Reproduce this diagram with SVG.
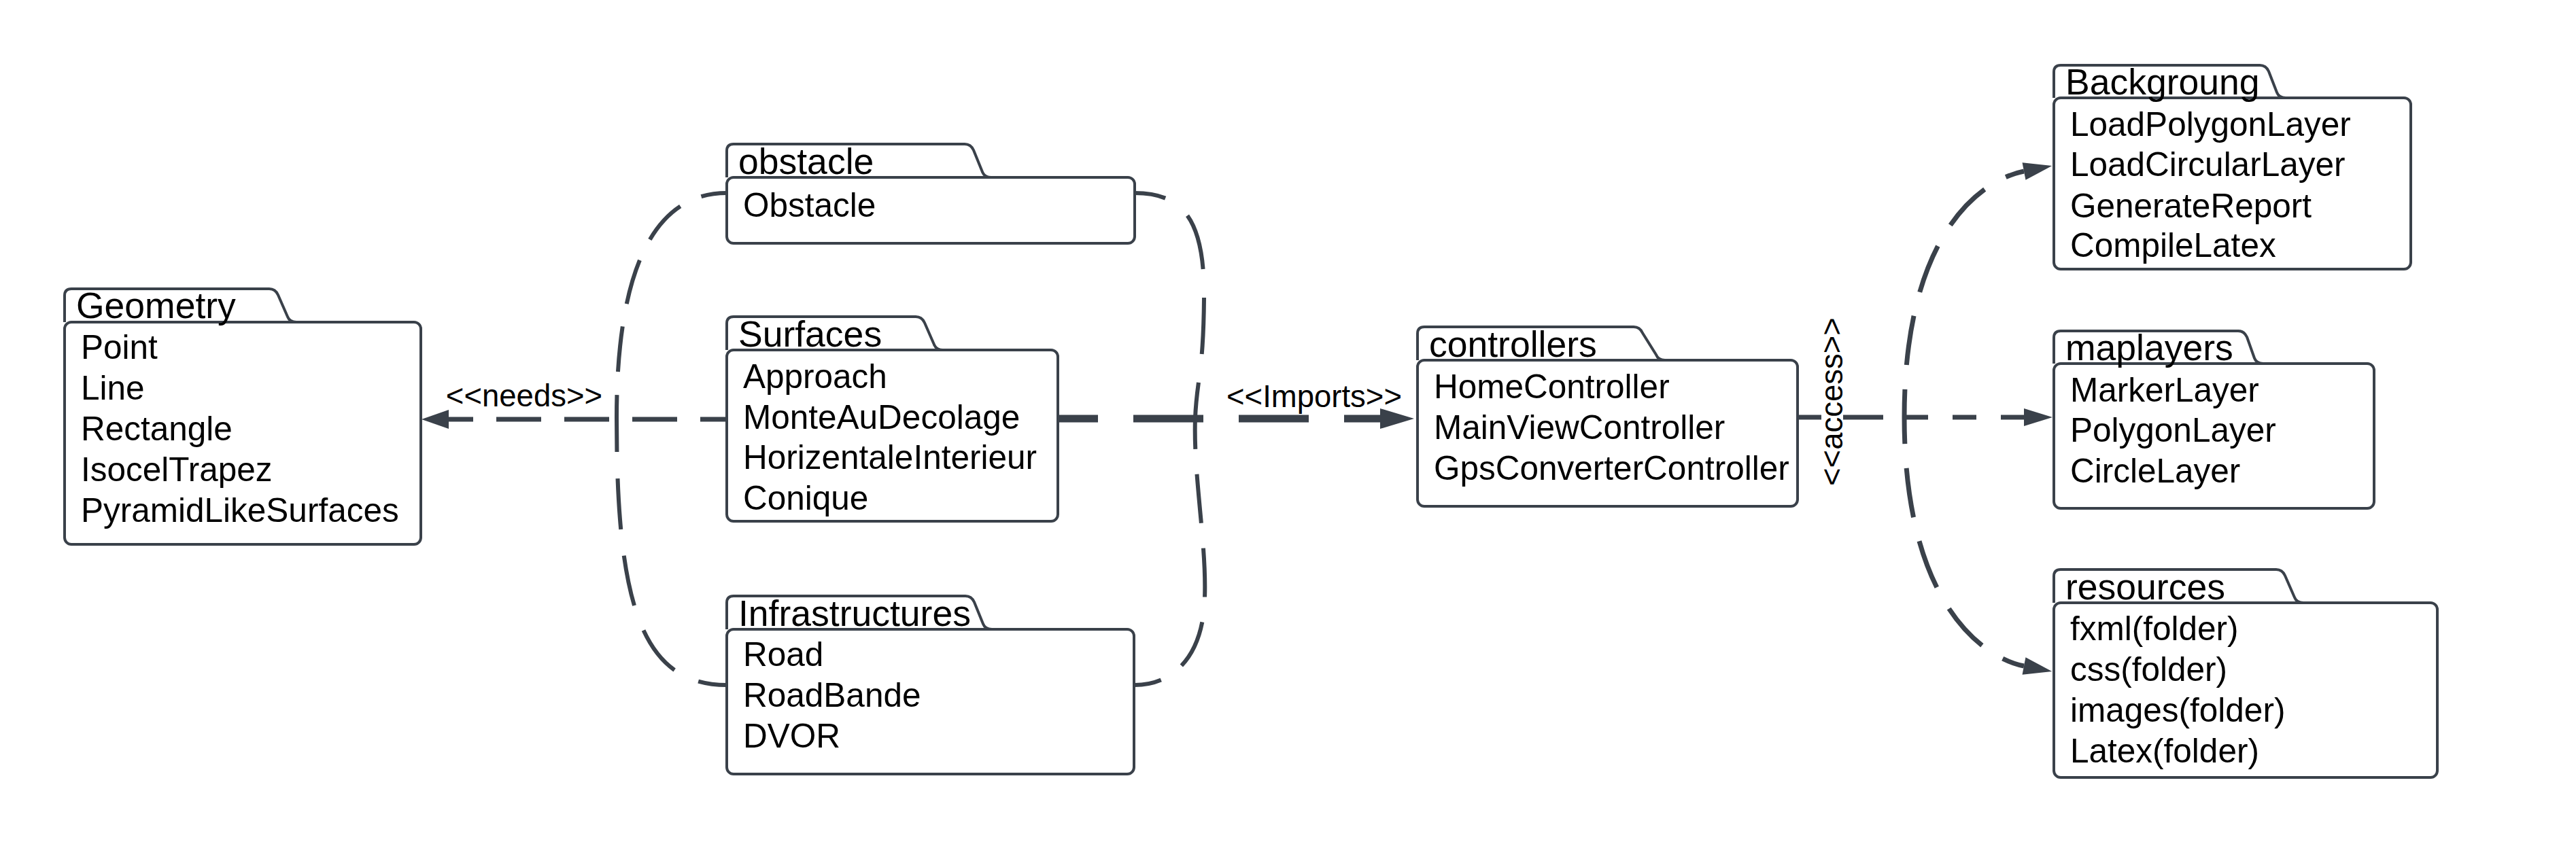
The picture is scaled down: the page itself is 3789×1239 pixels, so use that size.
<svg xmlns="http://www.w3.org/2000/svg" width="3789" height="1239" viewBox="0 0 3789 1239">
<style>
.tab,.body{fill:#fff;stroke:#3a414a;stroke-width:4;stroke-linejoin:round}
.t{font-family:"Liberation Sans",Arial,sans-serif;fill:#000}
.h{font-size:53.5px}
.i{font-size:49.5px}
.lbl{font-size:45.5px;text-anchor:middle}
.c{fill:none;stroke:#3a414a;stroke-linecap:butt}
.loop{stroke-width:6}
.thin{stroke-width:7}
</style>
<defs>
<marker id="a1" markerUnits="userSpaceOnUse" viewBox="0 0 40 28" refX="0" refY="14" markerWidth="40" markerHeight="28" orient="auto" overflow="visible"><path d="M0 0 L40 14 L0 28 Z" fill="#3a414a"/></marker>
<marker id="a2" markerUnits="userSpaceOnUse" viewBox="0 0 50 30" refX="0" refY="15" markerWidth="50" markerHeight="30" orient="auto" overflow="visible"><path d="M0 0 L50 15 L0 30 Z" fill="#3a414a"/></marker>
<marker id="a3" markerUnits="userSpaceOnUse" viewBox="0 0 42 26" refX="0" refY="13" markerWidth="42" markerHeight="26" orient="auto" overflow="visible"><path d="M0 0 L42 13 L0 26 Z" fill="#3a414a"/></marker>
</defs>
<rect x="0" y="0" width="3789" height="1239" fill="#fff"/>

<g id="connectors">
<path class="c loop" d="M1069 284 C960 284 907 400 907 615" stroke-dasharray="67 34" stroke-dashoffset="29"/>
<path class="c loop" d="M907 615 C907 880 940 1008 1069 1008" stroke-dasharray="75 39" stroke-dashoffset="25"/>
<path class="c loop" d="M1669 284 C1745 284 1772 330 1771 440 S1760 560 1758 615" stroke-dasharray="83 42" stroke-dashoffset="37"/>
<path class="c loop" d="M1758 615 C1755 700 1775 800 1772 880 C1770 960 1730 1008 1669 1008" stroke-dasharray="72 37" stroke-dashoffset="26"/>
<path class="c thin" d="M1069 617 H660" stroke-dasharray="66 34" stroke-dashoffset="27" marker-end="url(#a1)"/>
<path class="c" d="M1556 616 H2030" stroke-width="11" stroke-dasharray="103 52" stroke-dashoffset="44" marker-end="url(#a2)"/>
<path class="c thin" d="M2644 614 H2801" stroke-dasharray="35 32 59 100"/>
<path class="c thin" d="M2801 614 H2977" stroke-dasharray="35 36" marker-end="url(#a3)"/>
<path class="c thin" d="M2801 614 C2801 330 2925 262 2977 252" stroke-dasharray="73 36" stroke-dashoffset="32" marker-end="url(#a3)"/>
<path class="c thin" d="M2801 614 C2801 898 2925 970 2977 980" stroke-dasharray="73 36" stroke-dashoffset="34" marker-end="url(#a3)"/>
<text class="t lbl" x="771" y="598">&lt;&lt;needs&gt;&gt;</text>
<text class="t lbl" x="1933" y="599">&lt;&lt;Imports&gt;&gt;</text>
<text class="t lbl" transform="translate(2710,591) rotate(-90)">&lt;&lt;access&gt;&gt;</text>
</g>

<g id="geometry">
<path class="tab" d="M95 474 V435 Q95 425 105 425 H396 Q405 425 409 434 L423 466 Q426 474 436 474"/>
<rect class="body" x="95" y="474" width="524" height="327" rx="10"/>
<text class="t h" x="112" y="468">Geometry</text>
<text class="t i" x="119" y="528">Point</text>
<text class="t i" x="119" y="588">Line</text>
<text class="t i" x="119" y="648">Rectangle</text>
<text class="t i" x="119" y="708">IsocelTrapez</text>
<text class="t i" x="119" y="768">PyramidLikeSurfaces</text>
</g>

<g id="obstacle">
<path class="tab" d="M1069 261 V222 Q1069 212 1079 212 H1419 Q1428 212 1432 221 L1445 253 Q1448 261 1458 261"/>
<rect class="body" x="1069" y="261" width="600" height="97" rx="10"/>
<text class="t h" x="1086" y="256">obstacle</text>
<text class="t i" x="1093" y="319">Obstacle</text>
</g>

<g id="surfaces">
<path class="tab" d="M1069 515 V476 Q1069 466 1079 466 H1347 Q1356 466 1360 475 L1374 507 Q1377 515 1387 515"/>
<rect class="body" x="1069" y="515" width="487" height="252" rx="10"/>
<text class="t h" x="1086" y="510">Surfaces</text>
<text class="t i" x="1093" y="571">Approach</text>
<text class="t i" x="1093" y="631">MonteAuDecolage</text>
<text class="t i" x="1093" y="690">HorizentaleInterieur</text>
<text class="t i" x="1093" y="750">Conique</text>
</g>

<g id="infrastructures">
<path class="tab" d="M1069 926 V887 Q1069 877 1079 877 H1420 Q1429 877 1433 886 L1446 918 Q1449 926 1459 926"/>
<rect class="body" x="1069" y="926" width="599" height="213" rx="10"/>
<text class="t h" x="1086" y="921">Infrastructures</text>
<text class="t i" x="1093" y="980">Road</text>
<text class="t i" x="1093" y="1040">RoadBande</text>
<text class="t i" x="1093" y="1100">DVOR</text>
</g>

<g id="controllers">
<path class="tab" d="M2085 530 V491 Q2085 481 2095 481 H2403 Q2412 481 2416 490 L2436 522 Q2439 530 2449 530"/>
<rect class="body" x="2085" y="530" width="559" height="215" rx="10"/>
<text class="t h" x="2102" y="525">controllers</text>
<text class="t i" x="2109" y="586">HomeController</text>
<text class="t i" x="2109" y="646">MainViewController</text>
<text class="t i" x="2109" y="706">GpsConverterController</text>
</g>

<g id="backgroung">
<path class="tab" d="M3021 144 V106 Q3021 96 3031 96 H3324 Q3333 96 3337 105 L3349 136 Q3352 144 3362 144"/>
<rect class="body" x="3021" y="144" width="525" height="252" rx="10"/>
<text class="t h" x="3038" y="139">Backgroung</text>
<text class="t i" x="3045" y="200">LoadPolygonLayer</text>
<text class="t i" x="3045" y="259">LoadCircularLayer</text>
<text class="t i" x="3045" y="320">GenerateReport</text>
<text class="t i" x="3045" y="378">CompileLatex</text>
</g>

<g id="maplayers">
<path class="tab" d="M3021 535 V497 Q3021 487 3031 487 H3292 Q3301 487 3305 496 L3316 527 Q3319 535 3329 535"/>
<rect class="body" x="3021" y="535" width="471" height="213" rx="10"/>
<text class="t h" x="3038" y="530">maplayers</text>
<text class="t i" x="3045" y="591">MarkerLayer</text>
<text class="t i" x="3045" y="650">PolygonLayer</text>
<text class="t i" x="3045" y="710">CircleLayer</text>
</g>

<g id="resources">
<path class="tab" d="M3021 887 V848 Q3021 838 3031 838 H3348 Q3357 838 3361 847 L3375 879 Q3378 887 3388 887"/>
<rect class="body" x="3021" y="887" width="564" height="257" rx="10"/>
<text class="t h" x="3038" y="882">resources</text>
<text class="t i" x="3045" y="942">fxml(folder)</text>
<text class="t i" x="3045" y="1002">css(folder)</text>
<text class="t i" x="3045" y="1062">images(folder)</text>
<text class="t i" x="3045" y="1122">Latex(folder)</text>
</g>
</svg>
